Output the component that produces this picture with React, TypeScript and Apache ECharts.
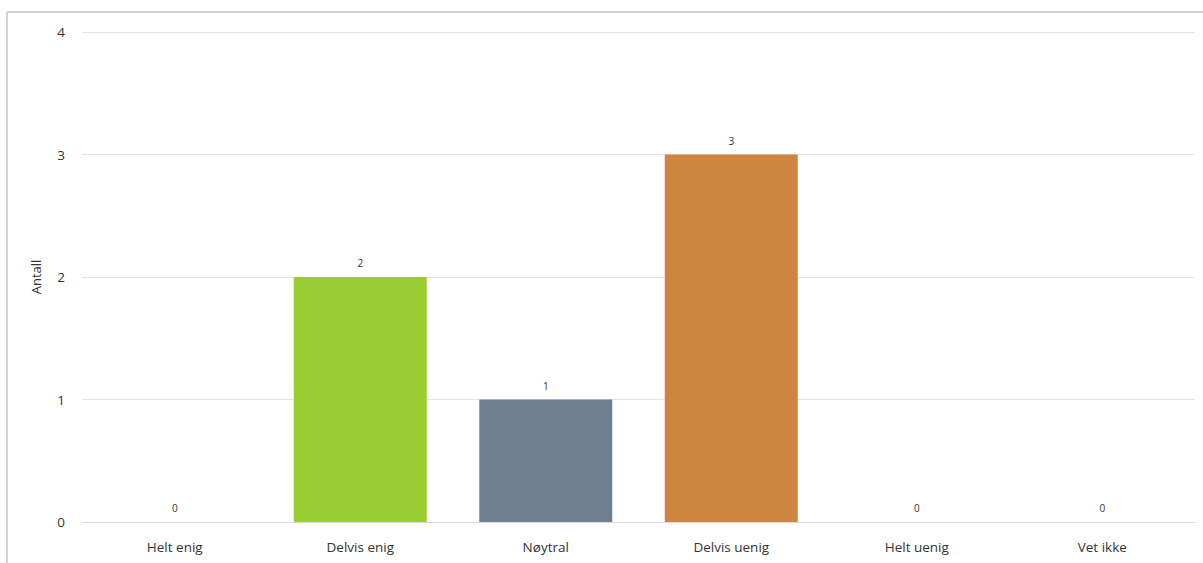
import React, { useEffect, useRef } from "react";
import * as echarts from "echarts";

const categories = ["Helt enig", "Delvis enig", "Nøytral", "Delvis uenig", "Helt uenig", "Vet ikke"];
const values = [0, 2, 1, 3, 0, 0];
const barColors = ["#9ACD32", "#9ACD32", "#6F7F8F", "#CD853F", "#9ACD32", "#9ACD32"];
const yTicks = [0, 1, 2, 3, 4];

export default function App() {
  const ref = useRef<HTMLDivElement>(null);
  useEffect(() => {
    if (!ref.current) return;
    const chart = echarts.init(ref.current, undefined, { renderer: "svg" });
    const font = "'Open Sans', 'Noto Sans', sans-serif";
    chart.setOption({
      animation: false,
      backgroundColor: "#ffffff",
      textStyle: { fontFamily: font },
      grid: { left: 82, right: 8, top: 32, bottom: 41, containLabel: false },
      graphic: [
        { type: "line", shape: { x1: 7, y1: 12, x2: 1203, y2: 12 }, style: { stroke: "#d2d2d2", lineWidth: 2 } },
        { type: "line", shape: { x1: 7, y1: 12, x2: 7, y2: 563 }, style: { stroke: "#d2d2d2", lineWidth: 2 } },
      ],
      xAxis: {
        type: "category",
        data: categories,
        axisLine: { show: true, lineStyle: { color: "#dcdcdc", width: 1 } },
        axisTick: { show: false },
        axisLabel: { color: "#333333", fontSize: 13.5, margin: 18, fontFamily: font },
      },
      yAxis: {
        type: "value",
        min: yTicks[0],
        max: yTicks[yTicks.length - 1],
        interval: 1,
        name: "Antall",
        nameLocation: "middle",
        nameGap: 40,
        nameTextStyle: { color: "#333333", fontSize: 13, fontFamily: font },
        axisLine: { show: false },
        axisTick: { show: false },
        axisLabel: { color: "#333333", fontSize: 13.5, margin: 17, fontFamily: font },
        splitLine: { lineStyle: { color: "#e3e3e3", width: 1 } },
      },
      series: [
        {
          type: "bar",
          data: values.map((v, i) => ({ value: v, itemStyle: { color: barColors[i] } })),
          barWidth: 133,
          label: {
            show: true,
            position: "top",
            distance: 9,
            fontSize: 10,
            color: "#333333",
            fontFamily: font,
          },
        },
      ],
    });
    return () => chart.dispose();
  }, []);
  return <div ref={ref} style={{ position: "fixed", left: 0, top: 0, width: 1203, height: 563 }} />;
}
